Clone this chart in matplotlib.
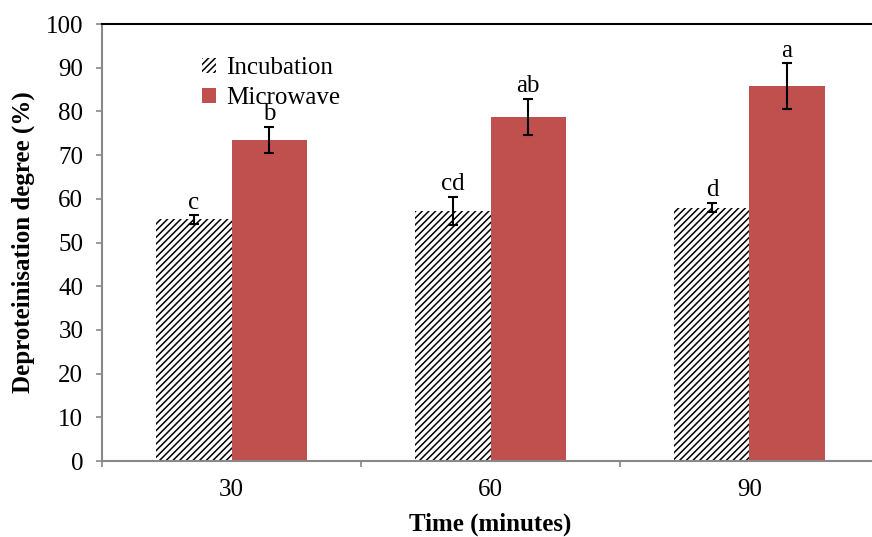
import matplotlib.pyplot as plt
import numpy as np

plt.rcParams['font.family'] = ['Liberation Serif', 'DejaVu Serif']
plt.rcParams['hatch.linewidth'] = 1.1

times = ['30', '60', '90']
incubation = [55.3, 57.3, 58.0]
incubation_err = [1.0, 3.2, 1.1]
microwave = [73.5, 78.7, 85.8]
microwave_err = [3.0, 4.2, 5.3]
inc_letters = ['c', 'cd', 'd']
mic_letters = ['b', 'ab', 'a']

fig = plt.figure(figsize=(8.72, 5.37), dpi=100)
ax = fig.add_axes([0.117, 0.1415, 0.891, 0.8138])

x = np.arange(len(times))
w = 0.29
ax.bar(x - w / 2, incubation, w, color='white', edgecolor='black',
       hatch='/////', linewidth=0, label='Incubation')
ax.bar(x + w / 2, microwave, w, color='#C0504D', linewidth=0,
       label='Microwave')
ax.errorbar(x - w / 2, incubation, yerr=incubation_err, fmt='none',
            ecolor='black', elinewidth=1.5, capsize=3.6, capthick=1.5)
ax.errorbar(x + w / 2, microwave, yerr=microwave_err, fmt='none',
            ecolor='black', elinewidth=1.5, capsize=3.6, capthick=1.5)

for i in range(len(times)):
    ax.text(x[i] - w / 2, incubation[i] + incubation_err[i] + 0.3,
            inc_letters[i], ha='center', va='bottom', fontsize=18)
    ax.text(x[i] + w / 2, microwave[i] + microwave_err[i] + 0.3,
            mic_letters[i], ha='center', va='bottom', fontsize=18)

ax.set_xlim(-0.5, 2.5)
ax.set_ylim(0, 100)
ax.set_yticks(range(0, 101, 10))
ax.set_xticks(x)
ax.set_xticklabels(times)
ax.set_xticks([-0.5, 0.5, 1.5, 2.5], minor=True)
ax.tick_params(axis='x', which='major', length=0, labelsize=18, pad=13)
ax.tick_params(axis='x', which='minor', length=4.5, color='#888888', width=1.2)
ax.tick_params(axis='y', length=4.5, color='#888888', width=1.2, labelsize=18,
               pad=9)

for s in ['left', 'bottom']:
    ax.spines[s].set_color('#888888')
    ax.spines[s].set_linewidth(1.5)
ax.spines['top'].set_color('black')
ax.spines['top'].set_linewidth(1.5)
ax.spines['right'].set_visible(False)

ax.set_xlabel('Time (minutes)', fontsize=18, fontweight='bold', labelpad=8)
ax.set_ylabel('Deproteinisation degree (%)', fontsize=18, fontweight='bold',
              labelpad=8)

ax.legend(loc='upper left', bbox_to_anchor=(0.113, 0.952), frameon=False,
          fontsize=18, handlelength=0.55, handleheight=0.55, handletextpad=0.4,
          labelspacing=0.3, borderpad=0)

fig.savefig('out.png', dpi=100)
